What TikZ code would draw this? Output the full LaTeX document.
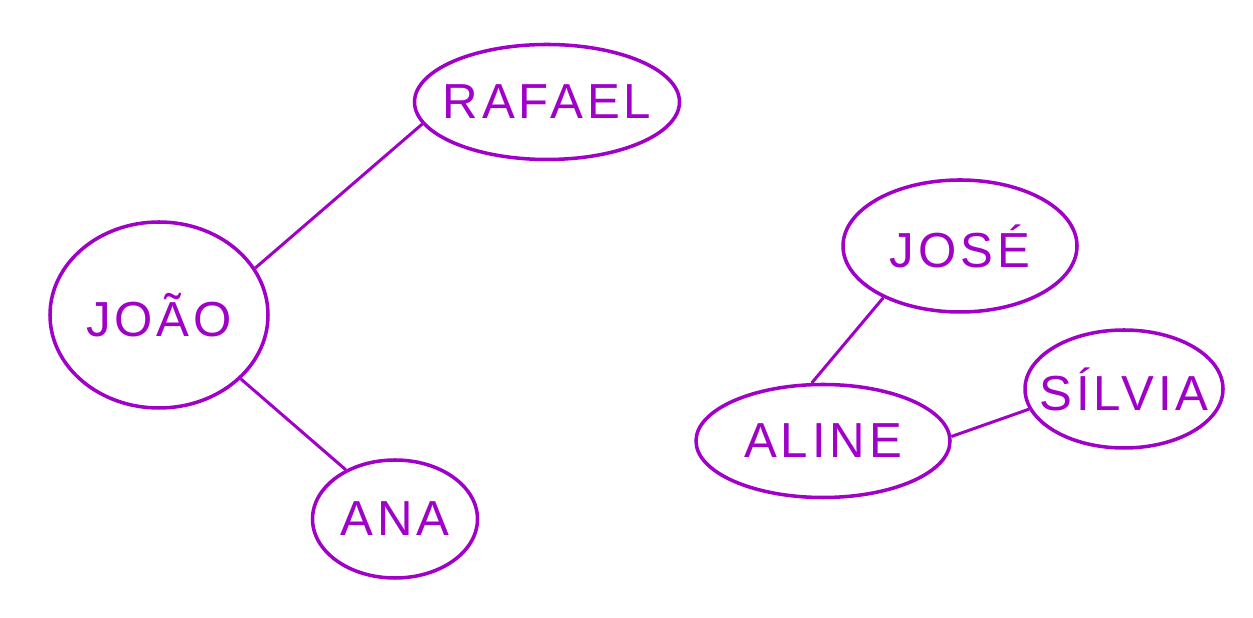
\documentclass[tikz,border=0pt]{standalone}
\usepackage{fontspec}
\newfontfamily\handfont[LetterSpace=8]{Liberation Sans}
\usepackage{xcolor}
\usepackage{tikz}
\usetikzlibrary{shapes,positioning}

\definecolor{marker}{RGB}{160,0,200}

\tikzset{
    person/.style={draw=marker, ellipse, line width=2pt, inner sep=-1.5cm,
        text=marker, font=\handfont\fontsize{28}{30}\selectfont},
    link/.style={draw=marker, line width=1.7pt}
}

\begin{document}
\begin{tikzpicture}
    \useasboundingbox (0,0) rectangle (25.06,12.36);

    % Left group
    \node[person, minimum width=4.36cm, minimum height=3.72cm] (joao) at (3.18,6.06) {JOÃO};
    \node[person, minimum width=5.3cm, minimum height=2.3cm] (rafael) at (10.94,10.32) {RAFAEL};
    \node[person, minimum width=3.3cm, minimum height=2.36cm] (ana) at (7.9,1.98) {ANA};

    \draw[link] (joao.26) -- (rafael.190);
    \draw[link] (joao.-38) -- (ana.135);

    % Right group
    \node[person, minimum width=4.68cm, minimum height=2.64cm] (jose) at (19.2,7.44) {JOSÉ};
    \node[person, minimum width=5.08cm, minimum height=2.26cm] (aline) at (16.46,3.54) {ALINE};
    \node[person, minimum width=3.96cm, minimum height=2.36cm] (silvia) at (22.48,4.58) {SÍLVIA};

    \draw[link] (aline.101) -- (jose.214);
    \draw[link] (aline.2) -- (silvia.192);
\end{tikzpicture}
\end{document}
